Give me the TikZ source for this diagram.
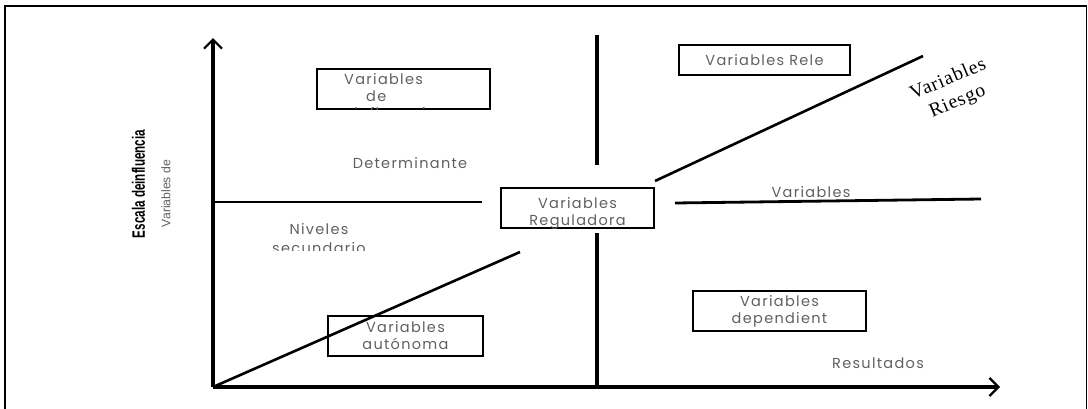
\documentclass[tikz,border=0pt]{standalone}
\usepackage{fontspec}
\setmainfont{Liberation Sans}
\newfontfamily\boxfont[LetterSpace=9]{Poppins}
\newfontfamily\riskfont[LetterSpace=5]{Liberation Serif}
\newfontfamily\axisfont{Liberation Sans}
\usetikzlibrary{arrows.meta}
\definecolor{txtgray}{HTML}{606060}
\begin{document}
\begin{tikzpicture}[x=1pt,y=-1pt,
  frame/.style={line width=1.2pt,black},
  axisline/.style={line width=3.4pt,black,-{Straight Barb[length=9pt,width=18pt,line width=2.2pt]}},
  divider/.style={line width=2.8pt,black},
  divthick/.style={line width=3.8pt,black},
  diag/.style={line width=2.6pt,black},
  vbox/.style={draw=black,line width=1.2pt,inner sep=0pt},
  txt/.style={font=\boxfont\fontsize{14.5}{17}\selectfont,text=txtgray,inner sep=0pt,align=center}]
\useasboundingbox (0,0) rectangle (1088,408);
% outer frame (left, top, right)
\draw[frame] (5,410) -- (5,6) -- (1086.5,6) -- (1086.5,410);

% coordinates
\coordinate (O) at (213,387);
\coordinate (ytip) at (213,38);
\coordinate (xtip) at (1000,387);
\coordinate (vtop1) at (597,35);
\coordinate (vtop2) at (597,165);
\coordinate (vbot1) at (597,233);
\coordinate (hl2) at (482,202);
\coordinate (hr1) at (675,203);
\coordinate (hr2) at (981,199);
\coordinate (d1a) at (655,181);
\coordinate (d1b) at (923,56);
\coordinate (d2b) at (520,252);

% axes
\draw[axisline] (O) -- (ytip);
\draw[axisline] (O) -- (xtip);
% central dividers
\draw[divthick] (vtop1) -- (vtop2);
\draw[divthick] (vbot1) -- (vbot1 |- O);
\draw[divider] (O |- hl2) -- (hl2);
\draw[divider] (hr1) -- (hr2);
% diagonals
\draw[diag] (d1a) -- (d1b);
\draw[diag] (O) -- (d2b);

% boxes
\node[vbox,minimum width=173pt,minimum height=40pt] (binf) at (403.5,89) {};
\node[vbox,minimum width=171pt,minimum height=30pt] (brele) at (764.5,60) {};
\node[vbox,minimum width=153pt,minimum height=40pt] (breg) at (577.5,208) {};
\node[vbox,minimum width=155pt,minimum height=40pt] (baut) at (405.5,336) {};
\node[vbox,minimum width=173pt,minimum height=40pt] (bdep) at (779.5,311) {};

% box texts (clipped to their boxes)
\begin{scope}
\clip (binf.south west) rectangle (binf.north east);
\node[txt,align=left,anchor=north west] (tinf) at (344,73) {Variables\\\hspace{22pt}de\\\hspace{10pt}influencia};
\end{scope}
\node[txt] (trele) at (brele) {Variables Rele};
\begin{scope}
\clip (breg.south west) rectangle (breg.north east);
\node[txt,anchor=north] (treg) at (577.5,197) {Variables\\Reguladora};
\end{scope}
\node[txt] (taut) at (baut) {Variables\\autónoma};
\node[txt] (tdep) at (bdep) {Variables\\dependient};

% free texts
\node[txt] (tdet) at (410,163) {Determinante};
\begin{scope}
\clip (230,210) rectangle (420,250.5);
\node[txt,anchor=north,font=\boxfont\fontsize{14.5}{19}\selectfont] (tniv) at (319,223) {Niveles\\secundario};
\end{scope}
\node[txt] (tvar) at (811,192) {Variables};
\node[txt] (tres) at (878,363) {Resultados};
\node[font=\riskfont\fontsize{19.5}{24}\selectfont,inner sep=0pt,align=center,rotate=23] (trisk) at (953,91) {Variables\\Riesgo};

% y-axis labels
\node[rotate=90,inner sep=0pt] (ylab1) at (138.5,184) {\resizebox{108pt}{13pt}{\axisfont\bfseries Escala deinfluencia}};
\node[rotate=90,inner sep=0pt,text=txtgray] (ylab2) at (166,193.5) {\resizebox{67pt}{9pt}{\axisfont Variables de}};
\end{tikzpicture}
\end{document}
